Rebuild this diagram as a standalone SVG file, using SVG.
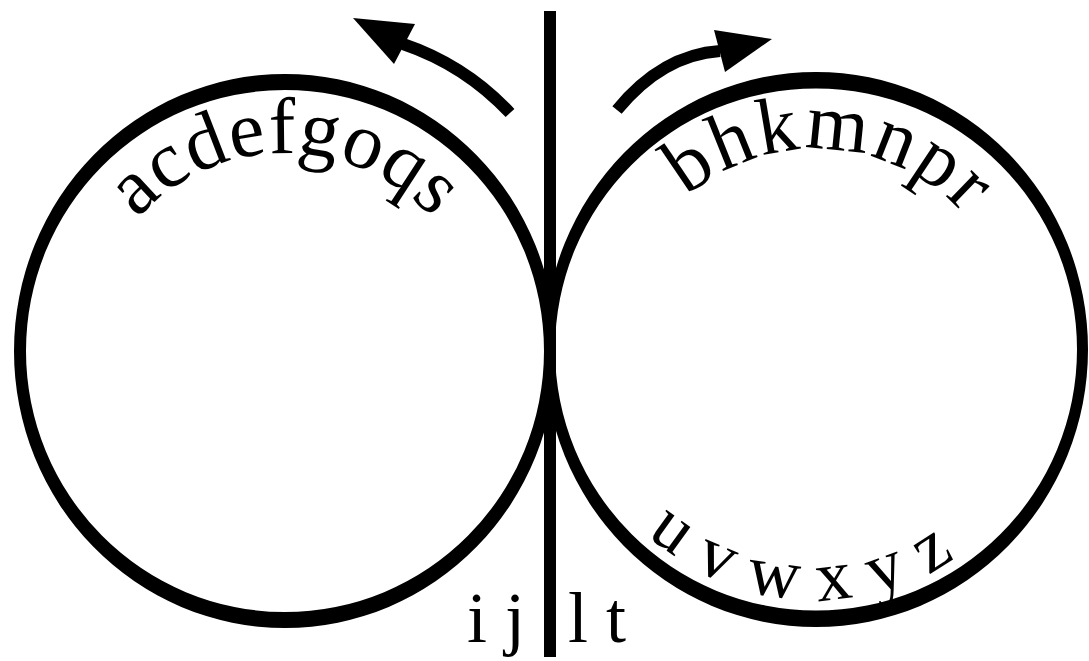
<svg xmlns="http://www.w3.org/2000/svg" width="1089" height="661" viewBox="0 0 1089 661">
<style>
.ring{fill:#000;fill-rule:evenodd;stroke:none}
.lbl{font-family:"Liberation Serif","Times New Roman",serif;font-size:72px;fill:#000}
.big{font-size:80px}
.arc{fill:none;stroke:#000;stroke-width:12;stroke-linecap:butt}
.head{fill:#000}
</style>
<defs>
<path id="pL" d="M 87 351 A 198 198 0 0 1 483 351"/>
<path id="pR" d="M 616 349 A 200 200 0 0 1 1016 349"/>
<path id="pB" d="M 565 349 A 251 251 0 0 0 1067 349"/>
</defs>
<rect width="1089" height="661" fill="#fff"/>
<g id="left-circle">
<path class="ring" d="M 14 351 A 271 277 0 1 1 556 351 A 271 277 0 1 1 14 351 Z M 26 351 A 259 261 0 1 1 544 351 A 259 261 0 1 1 26 351 Z"/>
<text class="lbl big" letter-spacing="1"><textPath href="#pL" startOffset="50%" text-anchor="middle">acdefgoqs</textPath></text>
</g>
<g id="right-circle">
<path class="ring" d="M 544 349.5 A 272 277.5 0 1 1 1088 349.5 A 272 277.5 0 1 1 544 349.5 Z M 555 349.5 A 261 261 0 1 1 1077 349.5 A 261 261 0 1 1 555 349.5 Z"/>
<text class="lbl big" letter-spacing="3"><textPath href="#pR" startOffset="328" text-anchor="middle">bhkmnpr</textPath></text>
<text class="lbl" font-size="74" letter-spacing="21"><textPath href="#pB" startOffset="386" text-anchor="middle">uvwxyz</textPath></text>
</g>
<g id="divider">
<line x1="550" y1="11" x2="550" y2="657" stroke="#000" stroke-width="12"/>
<text class="lbl" x="467" y="642">i j</text>
<text class="lbl" x="568" y="642">l t</text>
</g>
<g id="connectors">
<path class="arc" d="M 510 113 Q 465 65 403 44"/>
<polygon class="head" points="353,18 415,24 394,64"/>
<path class="arc" d="M 617 110 Q 662 55 720 51"/>
<polygon class="head" points="772,39 714,30 725,72"/>
</g>
</svg>
